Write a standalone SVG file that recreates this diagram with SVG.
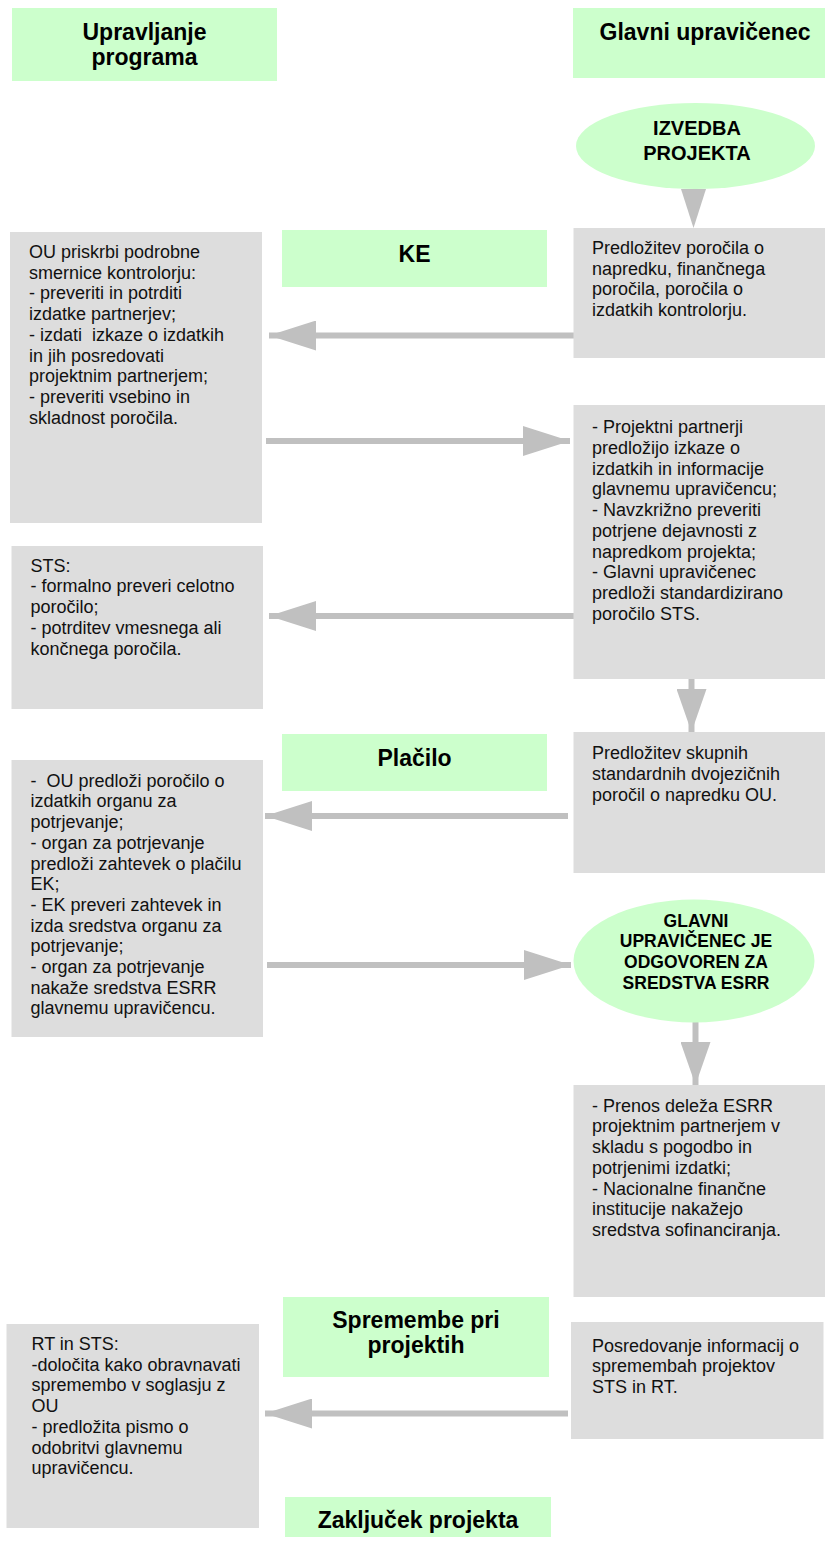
<svg xmlns="http://www.w3.org/2000/svg" width="825" height="1547" viewBox="0 0 825 1547">
<style>
.g{fill:#ccffcc}
.b{fill:#dddddd}
.h{font-family:"Liberation Sans",Arial,sans-serif;font-size:23px;font-weight:bold;fill:#000;text-anchor:middle}
.e{font-family:"Liberation Sans",Arial,sans-serif;font-size:20px;font-weight:bold;fill:#000;text-anchor:middle}
.e2{font-family:"Liberation Sans",Arial,sans-serif;font-size:17.5px;font-weight:bold;fill:#000;text-anchor:middle}
.t{font-family:"Liberation Sans",Arial,sans-serif;font-size:18px;fill:#111;white-space:pre}
.c{stroke:#c0c0c0;fill:none}
.ch{stroke-width:6}
.cv{stroke-width:6}
</style>
<defs>
<marker id="ah" markerUnits="userSpaceOnUse" markerWidth="47" markerHeight="30" viewBox="0 0 47 30" refX="47" refY="15" orient="auto"><path d="M0,0 L47,15 L0,30 Z" fill="#c0c0c0"/></marker>
<marker id="av" markerUnits="userSpaceOnUse" markerWidth="43" markerHeight="30" viewBox="0 0 43 30" refX="43" refY="15" orient="auto"><path d="M0,0 L43,15 L0,30 Z" fill="#c0c0c0"/></marker>
</defs>
<rect width="825" height="1547" fill="#fff"/>

<g id="connectors">
<polygon points="681,189 706,189 693.5,228" fill="#c0c0c0"/>
<line class="c ch" x1="574" y1="335.5" x2="269" y2="335.5" marker-end="url(#ah)"/>
<line class="c ch" x1="266" y1="441" x2="570" y2="441" marker-end="url(#ah)"/>
<line class="c ch" x1="574" y1="616" x2="269" y2="616" marker-end="url(#ah)"/>
<line class="c cv" x1="691.5" y1="679" x2="691.5" y2="732" marker-end="url(#av)"/>
<line class="c ch" x1="568" y1="816" x2="265" y2="816" marker-end="url(#ah)"/>
<line class="c ch" x1="267" y1="965" x2="571" y2="965" marker-end="url(#ah)"/>
<line class="c cv" x1="695.5" y1="1022" x2="695.5" y2="1085" marker-end="url(#av)"/>
<line class="c ch" x1="568" y1="1413.5" x2="265" y2="1413.5" marker-end="url(#ah)"/>
</g>

<g id="hdr-left">
<rect class="g" x="12" y="8" width="265" height="73"/>
<text class="h" x="144.5" y="39.5">Upravljanje</text>
<text class="h" x="144.5" y="64.5">programa</text>
</g>
<g id="hdr-right">
<rect class="g" x="573" y="8" width="252" height="70"/>
<text class="h" x="705" y="40">Glavni upravičenec</text>
</g>

<g id="izvedba">
<ellipse class="g" cx="695.5" cy="146" rx="119.5" ry="43"/>
<text class="e" x="697" y="135">IZVEDBA</text>
<text class="e" x="697" y="160">PROJEKTA</text>
</g>

<g id="ke">
<rect class="g" x="282" y="230" width="265" height="57"/>
<text class="h" x="414.5" y="262">KE</text>
</g>

<g id="left1">
<rect class="b" x="10" y="232" width="252" height="291"/>
<text class="t" x="29"><tspan x="29" y="258">OU priskrbi podrobne</tspan><tspan x="29" y="278.7">smernice kontrolorju:</tspan><tspan x="29" y="299.4">- preveriti in potrditi</tspan><tspan x="29" y="320.1">izdatke partnerjev;</tspan><tspan x="29" y="340.8">- izdati  izkaze o izdatkih</tspan><tspan x="29" y="361.5">in jih posredovati</tspan><tspan x="29" y="382.2">projektnim partnerjem;</tspan><tspan x="29" y="402.9">- preveriti vsebino in</tspan><tspan x="29" y="423.6">skladnost poročila.</tspan></text>
</g>

<g id="right1">
<rect class="b" x="573.5" y="228" width="251.5" height="130"/>
<text class="t" x="592"><tspan x="592" y="254">Predložitev poročila o</tspan><tspan x="592" y="274.7">napredku, finančnega</tspan><tspan x="592" y="295.4">poročila, poročila o</tspan><tspan x="592" y="316.1">izdatkih kontrolorju.</tspan></text>
</g>

<g id="right2">
<rect class="b" x="573.5" y="405" width="251.5" height="274"/>
<text class="t" x="592"><tspan x="592" y="433.3">- Projektni partnerji</tspan><tspan x="592" y="454">predložijo izkaze o</tspan><tspan x="592" y="474.7">izdatkih in informacije</tspan><tspan x="592" y="495.4">glavnemu upravičencu;</tspan><tspan x="592" y="516.1">- Navzkrižno preveriti</tspan><tspan x="592" y="536.8">potrjene dejavnosti z</tspan><tspan x="592" y="557.5">napredkom projekta;</tspan><tspan x="592" y="578.2">- Glavni upravičenec</tspan><tspan x="592" y="598.9">predloži standardizirano</tspan><tspan x="592" y="619.6">poročilo STS.</tspan></text>
</g>

<g id="left2">
<rect class="b" x="11.5" y="546" width="251.5" height="163"/>
<text class="t" x="30.5"><tspan x="30.5" y="571.7">STS:</tspan><tspan x="30.5" y="592.4">- formalno preveri celotno</tspan><tspan x="30.5" y="613.1">poročilo;</tspan><tspan x="30.5" y="633.8">- potrditev vmesnega ali</tspan><tspan x="30.5" y="654.5">končnega poročila.</tspan></text>
</g>

<g id="placilo">
<rect class="g" x="282" y="734" width="265" height="57"/>
<text class="h" x="414.5" y="766">Plačilo</text>
</g>

<g id="right3">
<rect class="b" x="573.5" y="732" width="251.5" height="141"/>
<text class="t" x="592"><tspan x="592" y="759.3">Predložitev skupnih</tspan><tspan x="592" y="780">standardnih dvojezičnih</tspan><tspan x="592" y="800.7">poročil o napredku OU.</tspan></text>
</g>

<g id="left3">
<rect class="b" x="11.5" y="760" width="251.5" height="277"/>
<text class="t" x="30.5"><tspan x="30.5" y="786.7">-  OU predloži poročilo o</tspan><tspan x="30.5" y="807.4">izdatkih organu za</tspan><tspan x="30.5" y="828.1">potrjevanje;</tspan><tspan x="30.5" y="848.8">- organ za potrjevanje</tspan><tspan x="30.5" y="869.5">predloži zahtevek o plačilu</tspan><tspan x="30.5" y="890.2">EK;</tspan><tspan x="30.5" y="910.9">- EK preveri zahtevek in</tspan><tspan x="30.5" y="931.6">izda sredstva organu za</tspan><tspan x="30.5" y="952.3">potrjevanje;</tspan><tspan x="30.5" y="973">- organ za potrjevanje</tspan><tspan x="30.5" y="993.7">nakaže sredstva ESRR</tspan><tspan x="30.5" y="1014.4">glavnemu upravičencu.</tspan></text>
</g>

<g id="glavni">
<ellipse class="g" cx="694" cy="961" rx="120.5" ry="61.5"/>
<text class="e2" x="696" y="926.5">GLAVNI</text>
<text class="e2" x="696" y="947.3">UPRAVIČENEC JE</text>
<text class="e2" x="696" y="968.1">ODGOVOREN ZA</text>
<text class="e2" x="696" y="988.9">SREDSTVA ESRR</text>
</g>

<g id="right4">
<rect class="b" x="573.5" y="1085" width="251.5" height="212"/>
<text class="t" x="592"><tspan x="592" y="1111.7">- Prenos deleža ESRR</tspan><tspan x="592" y="1132.4">projektnim partnerjem v</tspan><tspan x="592" y="1153.1">skladu s pogodbo in</tspan><tspan x="592" y="1173.8">potrjenimi izdatki;</tspan><tspan x="592" y="1194.5">- Nacionalne finančne</tspan><tspan x="592" y="1215.2">institucije nakažejo</tspan><tspan x="592" y="1235.9">sredstva sofinanciranja.</tspan></text>
</g>

<g id="spremembe">
<rect class="g" x="283" y="1297" width="266" height="80"/>
<text class="h" x="416" y="1328">Spremembe pri</text>
<text class="h" x="416" y="1353">projektih</text>
</g>

<g id="right5">
<rect class="b" x="571" y="1322" width="252.5" height="117"/>
<text class="t" x="592"><tspan x="592" y="1351.7">Posredovanje informacij o</tspan><tspan x="592" y="1372.4">spremembah projektov</tspan><tspan x="592" y="1393.1">STS in RT.</tspan></text>
</g>

<g id="left5">
<rect class="b" x="6.5" y="1324" width="252.5" height="204"/>
<text class="t" x="31.5"><tspan x="31.5" y="1350">RT in STS:</tspan><tspan x="31.5" y="1370.7">-določita kako obravnavati</tspan><tspan x="31.5" y="1391.4">spremembo v soglasju z</tspan><tspan x="31.5" y="1412.1">OU</tspan><tspan x="31.5" y="1432.8">- predložita pismo o</tspan><tspan x="31.5" y="1453.5">odobritvi glavnemu</tspan><tspan x="31.5" y="1474.2">upravičencu.</tspan></text>
</g>

<g id="zakljucek">
<rect class="g" x="285" y="1497" width="266" height="40"/>
<text class="h" x="418" y="1528">Zaključek projekta</text>
</g>
</svg>
